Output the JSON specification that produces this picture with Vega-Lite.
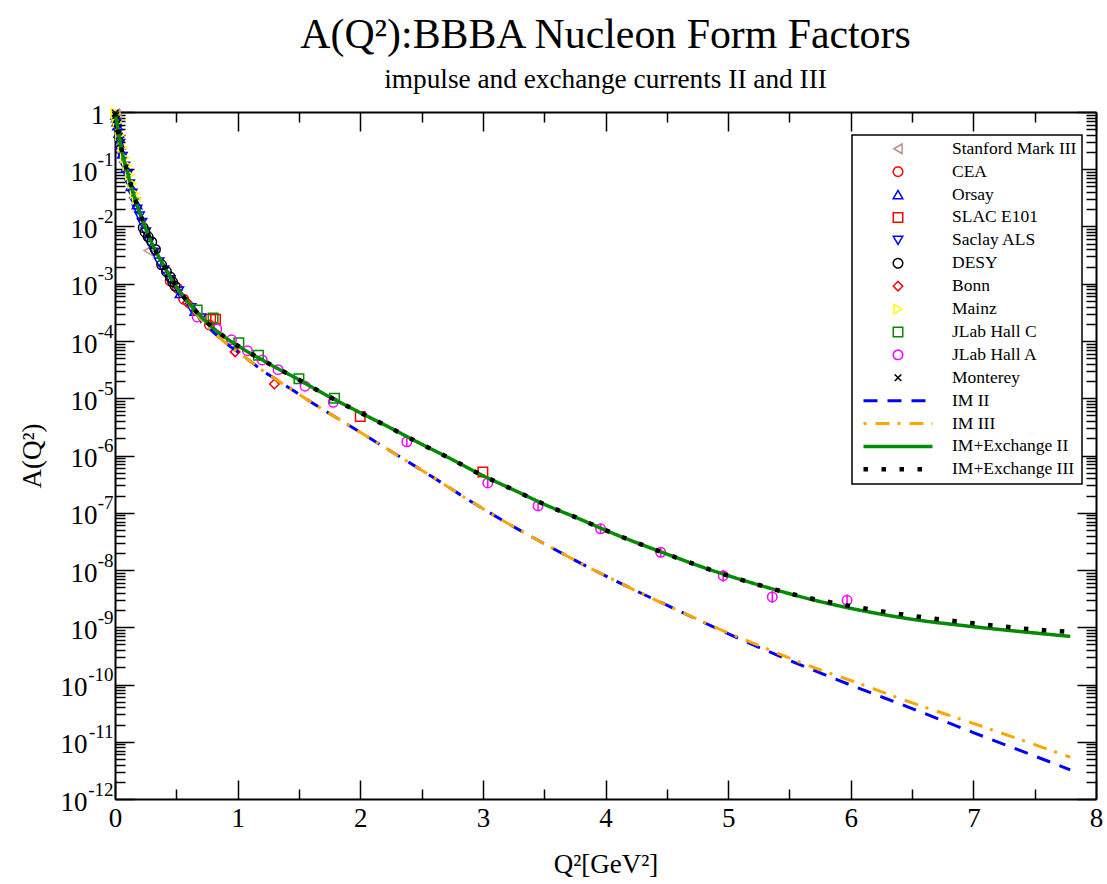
{
  "$schema": "https://vega.github.io/schema/vega-lite/v6.json",
  "width": 981,
  "height": 687,
  "autosize": {"type": "none"},
  "padding": {"left": 115, "top": 112, "right": 11, "bottom": 85},
  "background": "white",
  "title": {
    "text": "A(Q²):BBBA Nucleon Form Factors",
    "subtitle": "impulse and exchange currents II and III",
    "font": "Liberation Serif", "fontSize": 41.8, "fontWeight": "normal", "color": "black",
    "subtitleFont": "Liberation Serif", "subtitleFontSize": 27.3, "subtitleColor": "black",
    "anchor": "middle", "offset": 8, "subtitlePadding": 9
  },
  "config": {
    "view": {"stroke": null},
    "axis": {
      "labelFont": "Liberation Serif", "titleFont": "Liberation Serif",
      "labelFontSize": 27, "titleFontSize": 27, "labelColor": "black", "titleColor": "black",
      "titleFontWeight": "normal", "domainColor": "black", "domainWidth": 2,
      "tickColor": "black", "tickWidth": 1.5, "grid": false,
      "labelOverlap": false, "labelFlush": false, "labelBound": false
    },
    "legend": {
      "padding": 5, "labelFont": "Liberation Serif", "labelFontSize": 17.5, "labelColor": "black",
      "symbolSize": 4761, "symbolStrokeWidth": 1.5,
      "symbolOffset": 32.25, "labelOffset": 45.25, "rowPadding": 3.9,
      "strokeColor": "black", "fillColor": "white", "labelLimit": 300
    }
  },
  "datasets": {
    "pts": [
      {"series": "Stanford Mark III", "x": 0.004, "A": 0.933},
      {"series": "Stanford Mark III", "x": 0.008, "A": 0.851},
      {"series": "Stanford Mark III", "x": 0.015, "A": 0.708},
      {"series": "Stanford Mark III", "x": 0.27, "A": 0.0038},
      {"series": "CEA", "x": 0.45, "A": 0.001122},
      {"series": "CEA", "x": 0.51, "A": 8.318e-4},
      {"series": "CEA", "x": 0.56, "A": 5.37e-4},
      {"series": "CEA", "x": 0.77, "A": 1.905e-4},
      {"series": "Orsay", "x": 0.005, "A": 0.8913},
      {"series": "Orsay", "x": 0.01, "A": 0.7943},
      {"series": "Orsay", "x": 0.015, "A": 0.6761},
      {"series": "Orsay", "x": 0.02, "A": 0.5754},
      {"series": "Orsay", "x": 0.03, "A": 0.4266},
      {"series": "Orsay", "x": 0.045, "A": 0.2692},
      {"series": "Orsay", "x": 0.06, "A": 0.1862},
      {"series": "Orsay", "x": 0.09, "A": 0.1047},
      {"series": "Orsay", "x": 0.13, "A": 0.05012},
      {"series": "Orsay", "x": 0.18, "A": 0.02399},
      {"series": "Orsay", "x": 0.53, "A": 6.761e-4},
      {"series": "Orsay", "x": 0.65, "A": 3.311e-4},
      {"series": "SLAC E101", "x": 0.78, "A": 2.399e-4},
      {"series": "SLAC E101", "x": 0.82, "A": 2.399e-4},
      {"series": "SLAC E101", "x": 2.0, "A": 4.786e-6},
      {"series": "SLAC E101", "x": 3.0, "A": 5.129e-7},
      {"series": "Saclay ALS", "x": 0.04, "A": 0.2818},
      {"series": "Saclay ALS", "x": 0.06, "A": 0.166},
      {"series": "Saclay ALS", "x": 0.08, "A": 0.1122},
      {"series": "Saclay ALS", "x": 0.1, "A": 0.07943},
      {"series": "Saclay ALS", "x": 0.12, "A": 0.05495},
      {"series": "Saclay ALS", "x": 0.14, "A": 0.03802},
      {"series": "Saclay ALS", "x": 0.16, "A": 0.02692},
      {"series": "Saclay ALS", "x": 0.18, "A": 0.01995},
      {"series": "Saclay ALS", "x": 0.2, "A": 0.01514},
      {"series": "Saclay ALS", "x": 0.22, "A": 0.01175},
      {"series": "Saclay ALS", "x": 0.25, "A": 0.007943},
      {"series": "Saclay ALS", "x": 0.28, "A": 0.00537},
      {"series": "Saclay ALS", "x": 0.32, "A": 0.003548},
      {"series": "Saclay ALS", "x": 0.36, "A": 0.002399},
      {"series": "Saclay ALS", "x": 0.4, "A": 0.001738},
      {"series": "Saclay ALS", "x": 0.45, "A": 0.001175},
      {"series": "Saclay ALS", "x": 0.52, "A": 7.413e-4},
      {"series": "Saclay ALS", "x": 0.62, "A": 3.802e-4},
      {"series": "Saclay ALS", "x": 0.7, "A": 2.512e-4},
      {"series": "DESY", "x": 0.23, "A": 0.00955},
      {"series": "DESY", "x": 0.245, "A": 0.007943},
      {"series": "DESY", "x": 0.27, "A": 0.006607},
      {"series": "DESY", "x": 0.3, "A": 0.00537},
      {"series": "DESY", "x": 0.33, "A": 0.003981},
      {"series": "DESY", "x": 0.38, "A": 0.002138},
      {"series": "DESY", "x": 0.42, "A": 0.001622},
      {"series": "DESY", "x": 0.45, "A": 0.001318},
      {"series": "DESY", "x": 0.47, "A": 0.001072},
      {"series": "DESY", "x": 0.49, "A": 9.12e-4},
      {"series": "Bonn", "x": 0.59, "A": 4.677e-4},
      {"series": "Bonn", "x": 0.98, "A": 6.457e-5},
      {"series": "Bonn", "x": 1.3, "A": 1.778e-5},
      {"series": "Mainz", "x": 0.003, "A": 0.955},
      {"series": "Mainz", "x": 0.01, "A": 0.8318},
      {"series": "Mainz", "x": 0.02, "A": 0.6607},
      {"series": "Mainz", "x": 0.04, "A": 0.3981},
      {"series": "Mainz", "x": 0.06, "A": 0.2399},
      {"series": "Mainz", "x": 0.08, "A": 0.1585},
      {"series": "Mainz", "x": 0.1, "A": 0.1175},
      {"series": "Mainz", "x": 0.12, "A": 0.07943},
      {"series": "Mainz", "x": 0.14, "A": 0.05623},
      {"series": "Mainz", "x": 0.16, "A": 0.03802},
      {"series": "Mainz", "x": 0.18, "A": 0.0302},
      {"series": "JLab Hall C", "x": 0.67, "A": 3.467e-4},
      {"series": "JLab Hall C", "x": 0.8, "A": 2.512e-4},
      {"series": "JLab Hall C", "x": 1.01, "A": 9.333e-5},
      {"series": "JLab Hall C", "x": 1.17, "A": 5.623e-5},
      {"series": "JLab Hall C", "x": 1.5, "A": 2.188e-5},
      {"series": "JLab Hall C", "x": 1.79, "A": 1.0e-5},
      {"series": "JLab Hall A", "x": 0.67, "A": 2.63e-4},
      {"series": "JLab Hall A", "x": 0.83, "A": 1.622e-4},
      {"series": "JLab Hall A", "x": 0.95, "A": 1.047e-4},
      {"series": "JLab Hall A", "x": 1.08, "A": 6.761e-5},
      {"series": "JLab Hall A", "x": 1.2, "A": 4.677e-5},
      {"series": "JLab Hall A", "x": 1.33, "A": 3.162e-5},
      {"series": "JLab Hall A", "x": 1.55, "A": 1.622e-5},
      {"series": "JLab Hall A", "x": 1.78, "A": 8.511e-6},
      {"series": "JLab Hall A", "x": 2.38, "A": 1.738e-6, "lo": 1.45e-6, "hi": 2.08e-6},
      {"series": "JLab Hall A", "x": 3.04, "A": 3.311e-7, "lo": 2.76e-7, "hi": 3.97e-7},
      {"series": "JLab Hall A", "x": 3.45, "A": 1.318e-7, "lo": 1.1e-7, "hi": 1.58e-7},
      {"series": "JLab Hall A", "x": 3.96, "A": 5.248e-8, "lo": 4.37e-8, "hi": 6.3e-8},
      {"series": "JLab Hall A", "x": 4.45, "A": 2.042e-8, "lo": 1.7e-8, "hi": 2.45e-8},
      {"series": "JLab Hall A", "x": 4.96, "A": 7.943e-9, "lo": 6.25e-9, "hi": 1.01e-8},
      {"series": "JLab Hall A", "x": 5.36, "A": 3.388e-9, "lo": 2.67e-9, "hi": 4.3e-9},
      {"series": "JLab Hall A", "x": 5.97, "A": 2.951e-9, "lo": 2.32e-9, "hi": 3.75e-9},
      {"series": "Monterey", "x": 0.002, "A": 0.955},
      {"series": "Monterey", "x": 0.006, "A": 0.871},
      {"series": "Monterey", "x": 0.012, "A": 0.741},
      {"series": "Monterey", "x": 0.018, "A": 0.631},
      {"series": "Monterey", "x": 0.025, "A": 0.513},
      {"series": "Monterey", "x": 0.035, "A": 0.38},
      {"series": "Monterey", "x": 0.045, "A": 0.282}
    ],
    "curves": [
      {"series": "IM II", "x": 0, "A": 1},
      {"series": "IM II", "x": 0.01, "A": 0.7586},
      {"series": "IM II", "x": 0.025, "A": 0.4898},
      {"series": "IM II", "x": 0.05, "A": 0.2399},
      {"series": "IM II", "x": 0.075, "A": 0.1413},
      {"series": "IM II", "x": 0.1, "A": 0.0912},
      {"series": "IM II", "x": 0.125, "A": 0.05754},
      {"series": "IM II", "x": 0.15, "A": 0.03715},
      {"series": "IM II", "x": 0.175, "A": 0.02512},
      {"series": "IM II", "x": 0.2, "A": 0.01778},
      {"series": "IM II", "x": 0.25, "A": 0.009333},
      {"series": "IM II", "x": 0.3, "A": 0.005129},
      {"series": "IM II", "x": 0.35, "A": 0.003162},
      {"series": "IM II", "x": 0.4, "A": 0.002042},
      {"series": "IM II", "x": 0.45, "A": 0.001318},
      {"series": "IM II", "x": 0.5, "A": 8.913e-4},
      {"series": "IM II", "x": 0.6, "A": 4.365e-4},
      {"series": "IM II", "x": 0.7, "A": 2.399e-4},
      {"series": "IM II", "x": 0.8, "A": 1.445e-4},
      {"series": "IM II", "x": 0.9, "A": 9.333e-5},
      {"series": "IM II", "x": 1.0, "A": 6.457e-5},
      {"series": "IM II", "x": 1.1, "A": 4.467e-5},
      {"series": "IM II", "x": 1.2, "A": 3.09e-5},
      {"series": "IM II", "x": 1.36, "A": 1.845e-5},
      {"series": "IM II", "x": 1.61, "A": 8.26e-6},
      {"series": "IM II", "x": 1.93, "A": 3.148e-6},
      {"series": "IM II", "x": 2.26, "A": 1.151e-6},
      {"series": "IM II", "x": 2.59, "A": 4.207e-7},
      {"series": "IM II", "x": 2.91, "A": 1.542e-7},
      {"series": "IM II", "x": 3.24, "A": 5.875e-8},
      {"series": "IM II", "x": 3.58, "A": 2.328e-8},
      {"series": "IM II", "x": 3.92, "A": 9.616e-9},
      {"series": "IM II", "x": 4.27, "A": 4.13e-9},
      {"series": "IM II", "x": 4.62, "A": 1.845e-9},
      {"series": "IM II", "x": 4.97, "A": 8.26e-10},
      {"series": "IM II", "x": 5.32, "A": 3.846e-10},
      {"series": "IM II", "x": 5.67, "A": 1.866e-10},
      {"series": "IM II", "x": 6.0, "A": 9.772e-11},
      {"series": "IM II", "x": 6.5, "A": 3.802e-11},
      {"series": "IM II", "x": 7.0, "A": 1.445e-11},
      {"series": "IM II", "x": 7.5, "A": 5.623e-12},
      {"series": "IM II", "x": 7.79, "A": 3.236e-12},
      {"series": "IM III", "x": 0, "A": 1},
      {"series": "IM III", "x": 0.01, "A": 0.7586},
      {"series": "IM III", "x": 0.025, "A": 0.4898},
      {"series": "IM III", "x": 0.05, "A": 0.2399},
      {"series": "IM III", "x": 0.075, "A": 0.1413},
      {"series": "IM III", "x": 0.1, "A": 0.0912},
      {"series": "IM III", "x": 0.125, "A": 0.05754},
      {"series": "IM III", "x": 0.15, "A": 0.03715},
      {"series": "IM III", "x": 0.175, "A": 0.02512},
      {"series": "IM III", "x": 0.2, "A": 0.01778},
      {"series": "IM III", "x": 0.25, "A": 0.009333},
      {"series": "IM III", "x": 0.3, "A": 0.005129},
      {"series": "IM III", "x": 0.35, "A": 0.003162},
      {"series": "IM III", "x": 0.4, "A": 0.002042},
      {"series": "IM III", "x": 0.45, "A": 0.001318},
      {"series": "IM III", "x": 0.5, "A": 8.913e-4},
      {"series": "IM III", "x": 0.6, "A": 4.365e-4},
      {"series": "IM III", "x": 0.7, "A": 2.399e-4},
      {"series": "IM III", "x": 0.8, "A": 1.445e-4},
      {"series": "IM III", "x": 0.9, "A": 9.333e-5},
      {"series": "IM III", "x": 1.0, "A": 6.457e-5},
      {"series": "IM III", "x": 1.1, "A": 4.467e-5},
      {"series": "IM III", "x": 1.2, "A": 3.09e-5},
      {"series": "IM III", "x": 1.36, "A": 1.845e-5},
      {"series": "IM III", "x": 1.61, "A": 8.26e-6},
      {"series": "IM III", "x": 1.93, "A": 3.148e-6},
      {"series": "IM III", "x": 2.26, "A": 1.151e-6},
      {"series": "IM III", "x": 2.59, "A": 4.207e-7},
      {"series": "IM III", "x": 2.91, "A": 1.542e-7},
      {"series": "IM III", "x": 3.24, "A": 5.875e-8},
      {"series": "IM III", "x": 3.58, "A": 2.328e-8},
      {"series": "IM III", "x": 3.92, "A": 9.616e-9},
      {"series": "IM III", "x": 4.27, "A": 4.13e-9},
      {"series": "IM III", "x": 4.62, "A": 1.845e-9},
      {"series": "IM III", "x": 4.97, "A": 8.511e-10},
      {"series": "IM III", "x": 5.32, "A": 4.169e-10},
      {"series": "IM III", "x": 5.67, "A": 2.089e-10},
      {"series": "IM III", "x": 6.0, "A": 1.175e-10},
      {"series": "IM III", "x": 6.5, "A": 4.786e-11},
      {"series": "IM III", "x": 7.0, "A": 2.089e-11},
      {"series": "IM III", "x": 7.5, "A": 8.913e-12},
      {"series": "IM III", "x": 7.79, "A": 5.37e-12},
      {"series": "IM+Exchange II", "x": 0, "A": 1},
      {"series": "IM+Exchange II", "x": 0.01, "A": 0.7586},
      {"series": "IM+Exchange II", "x": 0.025, "A": 0.4898},
      {"series": "IM+Exchange II", "x": 0.05, "A": 0.2399},
      {"series": "IM+Exchange II", "x": 0.075, "A": 0.1413},
      {"series": "IM+Exchange II", "x": 0.1, "A": 0.0912},
      {"series": "IM+Exchange II", "x": 0.125, "A": 0.05754},
      {"series": "IM+Exchange II", "x": 0.15, "A": 0.03715},
      {"series": "IM+Exchange II", "x": 0.175, "A": 0.02512},
      {"series": "IM+Exchange II", "x": 0.2, "A": 0.01778},
      {"series": "IM+Exchange II", "x": 0.25, "A": 0.009333},
      {"series": "IM+Exchange II", "x": 0.3, "A": 0.005129},
      {"series": "IM+Exchange II", "x": 0.35, "A": 0.003162},
      {"series": "IM+Exchange II", "x": 0.4, "A": 0.002042},
      {"series": "IM+Exchange II", "x": 0.45, "A": 0.001318},
      {"series": "IM+Exchange II", "x": 0.5, "A": 8.913e-4},
      {"series": "IM+Exchange II", "x": 0.6, "A": 4.677e-4},
      {"series": "IM+Exchange II", "x": 0.7, "A": 2.692e-4},
      {"series": "IM+Exchange II", "x": 0.8, "A": 1.698e-4},
      {"series": "IM+Exchange II", "x": 0.9, "A": 1.148e-4},
      {"series": "IM+Exchange II", "x": 1.0, "A": 8.318e-5},
      {"series": "IM+Exchange II", "x": 1.1, "A": 6.166e-5},
      {"series": "IM+Exchange II", "x": 1.2, "A": 4.677e-5},
      {"series": "IM+Exchange II", "x": 1.3, "A": 3.548e-5},
      {"series": "IM+Exchange II", "x": 1.46, "A": 2.344e-5},
      {"series": "IM+Exchange II", "x": 1.71, "A": 1.175e-5},
      {"series": "IM+Exchange II", "x": 1.97, "A": 6.026e-6},
      {"series": "IM+Exchange II", "x": 2.23, "A": 3.162e-6},
      {"series": "IM+Exchange II", "x": 2.48, "A": 1.66e-6},
      {"series": "IM+Exchange II", "x": 2.74, "A": 8.71e-7},
      {"series": "IM+Exchange II", "x": 2.99, "A": 4.571e-7},
      {"series": "IM+Exchange II", "x": 3.25, "A": 2.512e-7},
      {"series": "IM+Exchange II", "x": 3.52, "A": 1.349e-7},
      {"series": "IM+Exchange II", "x": 3.79, "A": 7.762e-8},
      {"series": "IM+Exchange II", "x": 4.05, "A": 4.467e-8},
      {"series": "IM+Exchange II", "x": 4.46, "A": 2.042e-8},
      {"series": "IM+Exchange II", "x": 4.86, "A": 1.0e-8},
      {"series": "IM+Exchange II", "x": 5.28, "A": 5.248e-9},
      {"series": "IM+Exchange II", "x": 5.69, "A": 3.02e-9},
      {"series": "IM+Exchange II", "x": 6.0, "A": 2.138e-9},
      {"series": "IM+Exchange II", "x": 6.5, "A": 1.38e-9},
      {"series": "IM+Exchange II", "x": 7.0, "A": 1.023e-9},
      {"series": "IM+Exchange II", "x": 7.5, "A": 7.943e-10},
      {"series": "IM+Exchange II", "x": 7.79, "A": 6.918e-10},
      {"series": "IM+Exchange III", "x": 0, "A": 1},
      {"series": "IM+Exchange III", "x": 0.01, "A": 0.7586},
      {"series": "IM+Exchange III", "x": 0.025, "A": 0.4898},
      {"series": "IM+Exchange III", "x": 0.05, "A": 0.2399},
      {"series": "IM+Exchange III", "x": 0.075, "A": 0.1413},
      {"series": "IM+Exchange III", "x": 0.1, "A": 0.0912},
      {"series": "IM+Exchange III", "x": 0.125, "A": 0.05754},
      {"series": "IM+Exchange III", "x": 0.15, "A": 0.03715},
      {"series": "IM+Exchange III", "x": 0.175, "A": 0.02512},
      {"series": "IM+Exchange III", "x": 0.2, "A": 0.01778},
      {"series": "IM+Exchange III", "x": 0.25, "A": 0.009333},
      {"series": "IM+Exchange III", "x": 0.3, "A": 0.005129},
      {"series": "IM+Exchange III", "x": 0.35, "A": 0.003162},
      {"series": "IM+Exchange III", "x": 0.4, "A": 0.002042},
      {"series": "IM+Exchange III", "x": 0.45, "A": 0.001318},
      {"series": "IM+Exchange III", "x": 0.5, "A": 8.913e-4},
      {"series": "IM+Exchange III", "x": 0.6, "A": 4.677e-4},
      {"series": "IM+Exchange III", "x": 0.7, "A": 2.692e-4},
      {"series": "IM+Exchange III", "x": 0.8, "A": 1.698e-4},
      {"series": "IM+Exchange III", "x": 0.9, "A": 1.148e-4},
      {"series": "IM+Exchange III", "x": 1.0, "A": 8.318e-5},
      {"series": "IM+Exchange III", "x": 1.1, "A": 6.166e-5},
      {"series": "IM+Exchange III", "x": 1.2, "A": 4.677e-5},
      {"series": "IM+Exchange III", "x": 1.3, "A": 3.548e-5},
      {"series": "IM+Exchange III", "x": 1.46, "A": 2.344e-5},
      {"series": "IM+Exchange III", "x": 1.71, "A": 1.175e-5},
      {"series": "IM+Exchange III", "x": 1.97, "A": 6.026e-6},
      {"series": "IM+Exchange III", "x": 2.23, "A": 3.162e-6},
      {"series": "IM+Exchange III", "x": 2.48, "A": 1.66e-6},
      {"series": "IM+Exchange III", "x": 2.74, "A": 8.71e-7},
      {"series": "IM+Exchange III", "x": 2.99, "A": 4.571e-7},
      {"series": "IM+Exchange III", "x": 3.25, "A": 2.512e-7},
      {"series": "IM+Exchange III", "x": 3.52, "A": 1.349e-7},
      {"series": "IM+Exchange III", "x": 3.79, "A": 7.762e-8},
      {"series": "IM+Exchange III", "x": 4.05, "A": 4.467e-8},
      {"series": "IM+Exchange III", "x": 4.46, "A": 2.042e-8},
      {"series": "IM+Exchange III", "x": 4.86, "A": 1.0e-8},
      {"series": "IM+Exchange III", "x": 5.28, "A": 5.248e-9},
      {"series": "IM+Exchange III", "x": 5.6, "A": 3.467e-9},
      {"series": "IM+Exchange III", "x": 6.0, "A": 2.344e-9},
      {"series": "IM+Exchange III", "x": 6.5, "A": 1.585e-9},
      {"series": "IM+Exchange III", "x": 7.0, "A": 1.175e-9},
      {"series": "IM+Exchange III", "x": 7.5, "A": 9.12e-10},
      {"series": "IM+Exchange III", "x": 7.79, "A": 8.318e-10}
    ]
  },
  "resolve": {"axis": {"x": "independent", "y": "independent"}},
  "layer": [
    {
      "data": {"name": "pts"},
      "mark": {"type": "point", "filled": false, "opacity": 1, "size": 90, "strokeWidth": 1.5},
      "encoding": {
        "x": {"field": "x", "type": "quantitative",
          "scale": {"domain": [0, 8], "nice": false, "zero": false},
          "axis": {"orient": "bottom", "values": [0, 1, 2, 3, 4, 5, 6, 7, 8], "format": "d", "tickSize": -19, "labelPadding": 25,
            "title": "Q²[GeV²]", "titleY": 73, "titleBaseline": "alphabetic"}},
        "y": {"field": "A", "type": "quantitative",
          "scale": {"type": "log", "domain": [1e-12, 1], "nice": false},
          "axis": {"orient": "left", "values": [1, 1e-1, 1e-2, 1e-3, 1e-4, 1e-5, 1e-6, 1e-7, 1e-8, 1e-9, 1e-10, 1e-11, 1e-12],
            "tickSize": -19, "labelAlign": "right", "labelBaseline": "middle", "labelOffset": 3,
            "labelPadding": {"condition": [{"test": "datum.value >= 1", "value": 30}, {"test": "datum.value < 1e-9", "value": 47}], "value": 37},
            "labelExpr": "datum.value >= 1 ? '1' : '10'",
            "title": "A(Q²)", "titleX": -75, "titleBaseline": "alphabetic"}},
        "color": {"field": "series", "type": "nominal",
          "scale": {"domain": ["Stanford Mark III", "CEA", "Orsay", "SLAC E101", "Saclay ALS", "DESY", "Bonn", "Mainz", "JLab Hall C", "JLab Hall A", "Monterey", "IM II", "IM III", "IM+Exchange II", "IM+Exchange III"],
            "range": ["#bc8f8f", "#ff0000", "#0000ff", "#ff0000", "#0000ff", "#000000", "#ff0000", "#ffff00", "#008b00", "#ff00ff", "#000000", "#0000ff", "#ffa500", "#008b00", "#000000"]},
          "legend": {"title": null, "orient": "none", "legendX": 737, "legendY": 23,
            "encoding": {
              "symbols": {
                "size": {"value": {"expr": "(indexof(['IM II','IM III','IM+Exchange II','IM+Exchange III'], datum.value) >= 0 ? 4761 : 90)"}},
                "strokeWidth": {"value": {"expr": "(datum.value == 'IM+Exchange III' ? 4.5 : (datum.value == 'IM+Exchange II' ? 3.5 : ((datum.value == 'IM II' || datum.value == 'IM III') ? 3 : 1.5)))"}}
              },
              "legend": {"strokeWidth": {"value": 1.5}}
            }}},
        "shape": {"field": "series", "type": "nominal",
          "scale": {"domain": ["Stanford Mark III", "CEA", "Orsay", "SLAC E101", "Saclay ALS", "DESY", "Bonn", "Mainz", "JLab Hall C", "JLab Hall A", "Monterey", "IM II", "IM III", "IM+Exchange II", "IM+Exchange III"],
            "range": ["triangle-left", "circle", "triangle-up", "square", "triangle-down", "circle", "diamond", "triangle-right", "square", "circle", "M-0.7,-0.7L0.7,0.7M-0.7,0.7L0.7,-0.7", "stroke", "stroke", "stroke", "stroke"]},
          "legend": {"title": null, "orient": "none", "legendX": 737, "legendY": 23}}
      }
    },
    {
      "data": {"name": "pts"},
      "transform": [{"filter": "isValid(datum.lo)"}],
      "mark": {"type": "rule", "color": "#ff00ff", "strokeWidth": 1.5},
      "encoding": {
        "x": {"field": "x", "type": "quantitative", "axis": null},
        "y": {"field": "lo", "type": "quantitative", "axis": null},
        "y2": {"field": "hi"}
      }
    },
    {
      "data": {"name": "curves"},
      "transform": [{"filter": "datum.series == 'IM II'"}],
      "mark": {"type": "line", "interpolate": "monotone", "strokeWidth": 3},
      "encoding": {
        "x": {"field": "x", "type": "quantitative",
          "axis": {"orient": "bottom", "values": [0.5, 1.5, 2.5, 3.5, 4.5, 5.5, 6.5, 7.5], "tickSize": -10, "labels": false, "domain": false, "title": null}},
        "y": {"field": "A", "type": "quantitative",
          "axis": {"orient": "left", "values": [9e-1, 8e-1, 7e-1, 6e-1, 5e-1, 4e-1, 3e-1, 2e-1, 9e-2, 8e-2, 7e-2, 6e-2, 5e-2, 4e-2, 3e-2, 2e-2, 9e-3, 8e-3, 7e-3, 6e-3, 5e-3, 4e-3, 3e-3, 2e-3, 9e-4, 8e-4, 7e-4, 6e-4, 5e-4, 4e-4, 3e-4, 2e-4, 9e-5, 8e-5, 7e-5, 6e-5, 5e-5, 4e-5, 3e-5, 2e-5, 9e-6, 8e-6, 7e-6, 6e-6, 5e-6, 4e-6, 3e-6, 2e-6, 9e-7, 8e-7, 7e-7, 6e-7, 5e-7, 4e-7, 3e-7, 2e-7, 9e-8, 8e-8, 7e-8, 6e-8, 5e-8, 4e-8, 3e-8, 2e-8, 9e-9, 8e-9, 7e-9, 6e-9, 5e-9, 4e-9, 3e-9, 2e-9, 9e-10, 8e-10, 7e-10, 6e-10, 5e-10, 4e-10, 3e-10, 2e-10, 9e-11, 8e-11, 7e-11, 6e-11, 5e-11, 4e-11, 3e-11, 2e-11, 9e-12, 8e-12, 7e-12, 6e-12, 5e-12, 4e-12, 3e-12, 2e-12],
            "tickSize": -10, "labels": false, "domain": false, "title": null}},
        "color": {"field": "series", "type": "nominal", "legend": {"title": null, "orient": "none", "legendX": 737, "legendY": 23}},
        "strokeDash": {"field": "series", "type": "nominal",
          "scale": {"domain": ["Stanford Mark III", "CEA", "Orsay", "SLAC E101", "Saclay ALS", "DESY", "Bonn", "Mainz", "JLab Hall C", "JLab Hall A", "Monterey", "IM II", "IM III", "IM+Exchange II", "IM+Exchange III"],
            "range": [[1, 0], [1, 0], [1, 0], [1, 0], [1, 0], [1, 0], [1, 0], [1, 0], [1, 0], [1, 0], [1, 0], [14, 10], [3, 9, 14, 8], [1, 0], [4.5, 13.5]]},
          "legend": {"title": null, "orient": "none", "legendX": 737, "legendY": 23}}
      }
    },
    {
      "data": {"name": "curves"},
      "transform": [{"filter": "datum.series == 'IM III'"}],
      "mark": {"type": "line", "interpolate": "monotone", "strokeWidth": 3},
      "encoding": {
        "x": {"field": "x", "type": "quantitative",
          "axis": {"orient": "top", "values": [0, 1, 2, 3, 4, 5, 6, 7, 8], "tickSize": -19, "labels": false, "title": null}},
        "y": {"field": "A", "type": "quantitative",
          "axis": {"orient": "right", "values": [1, 1e-1, 1e-2, 1e-3, 1e-4, 1e-5, 1e-6, 1e-7, 1e-8, 1e-9, 1e-10, 1e-11, 1e-12], "tickSize": -19, "labels": false, "title": null}},
        "color": {"field": "series", "type": "nominal", "legend": {"title": null, "orient": "none", "legendX": 737, "legendY": 23}},
        "strokeDash": {"field": "series", "type": "nominal", "legend": {"title": null, "orient": "none", "legendX": 737, "legendY": 23}}
      }
    },
    {
      "data": {"name": "curves"},
      "transform": [{"filter": "datum.series == 'IM+Exchange II'"}],
      "mark": {"type": "line", "interpolate": "monotone", "strokeWidth": 3.5},
      "encoding": {
        "x": {"field": "x", "type": "quantitative",
          "axis": {"orient": "top", "values": [0.5, 1.5, 2.5, 3.5, 4.5, 5.5, 6.5, 7.5], "tickSize": -10, "labels": false, "domain": false, "title": null}},
        "y": {"field": "A", "type": "quantitative",
          "axis": {"orient": "right", "values": [9e-1, 8e-1, 7e-1, 6e-1, 5e-1, 4e-1, 3e-1, 2e-1, 9e-2, 8e-2, 7e-2, 6e-2, 5e-2, 4e-2, 3e-2, 2e-2, 9e-3, 8e-3, 7e-3, 6e-3, 5e-3, 4e-3, 3e-3, 2e-3, 9e-4, 8e-4, 7e-4, 6e-4, 5e-4, 4e-4, 3e-4, 2e-4, 9e-5, 8e-5, 7e-5, 6e-5, 5e-5, 4e-5, 3e-5, 2e-5, 9e-6, 8e-6, 7e-6, 6e-6, 5e-6, 4e-6, 3e-6, 2e-6, 9e-7, 8e-7, 7e-7, 6e-7, 5e-7, 4e-7, 3e-7, 2e-7, 9e-8, 8e-8, 7e-8, 6e-8, 5e-8, 4e-8, 3e-8, 2e-8, 9e-9, 8e-9, 7e-9, 6e-9, 5e-9, 4e-9, 3e-9, 2e-9, 9e-10, 8e-10, 7e-10, 6e-10, 5e-10, 4e-10, 3e-10, 2e-10, 9e-11, 8e-11, 7e-11, 6e-11, 5e-11, 4e-11, 3e-11, 2e-11, 9e-12, 8e-12, 7e-12, 6e-12, 5e-12, 4e-12, 3e-12, 2e-12],
            "tickSize": -10, "labels": false, "domain": false, "title": null}},
        "color": {"field": "series", "type": "nominal", "legend": {"title": null, "orient": "none", "legendX": 737, "legendY": 23}},
        "strokeDash": {"field": "series", "type": "nominal", "legend": {"title": null, "orient": "none", "legendX": 737, "legendY": 23}}
      }
    },
    {
      "data": {"name": "curves"},
      "transform": [{"filter": "datum.series == 'IM+Exchange III'"}],
      "mark": {"type": "line", "interpolate": "monotone", "strokeWidth": 4.5},
      "encoding": {
        "x": {"field": "x", "type": "quantitative", "axis": null},
        "y": {"field": "A", "type": "quantitative",
          "axis": {"orient": "left", "values": [1e-1, 1e-2, 1e-3, 1e-4, 1e-5, 1e-6, 1e-7, 1e-8, 1e-9, 1e-10, 1e-11, 1e-12],
            "ticks": false, "tickSize": 0, "domain": false, "labelPadding": 2, "labelAlign": "right", "labelBaseline": "middle",
            "labelFontSize": 19, "labelOffset": -10,
            "labelExpr": "'-' + round(-log(datum.value)/LN10)",
            "title": null}},
        "color": {"field": "series", "type": "nominal", "legend": {"title": null, "orient": "none", "legendX": 737, "legendY": 23}},
        "strokeDash": {"field": "series", "type": "nominal", "legend": {"title": null, "orient": "none", "legendX": 737, "legendY": 23}}
      }
    }
  ]
}
